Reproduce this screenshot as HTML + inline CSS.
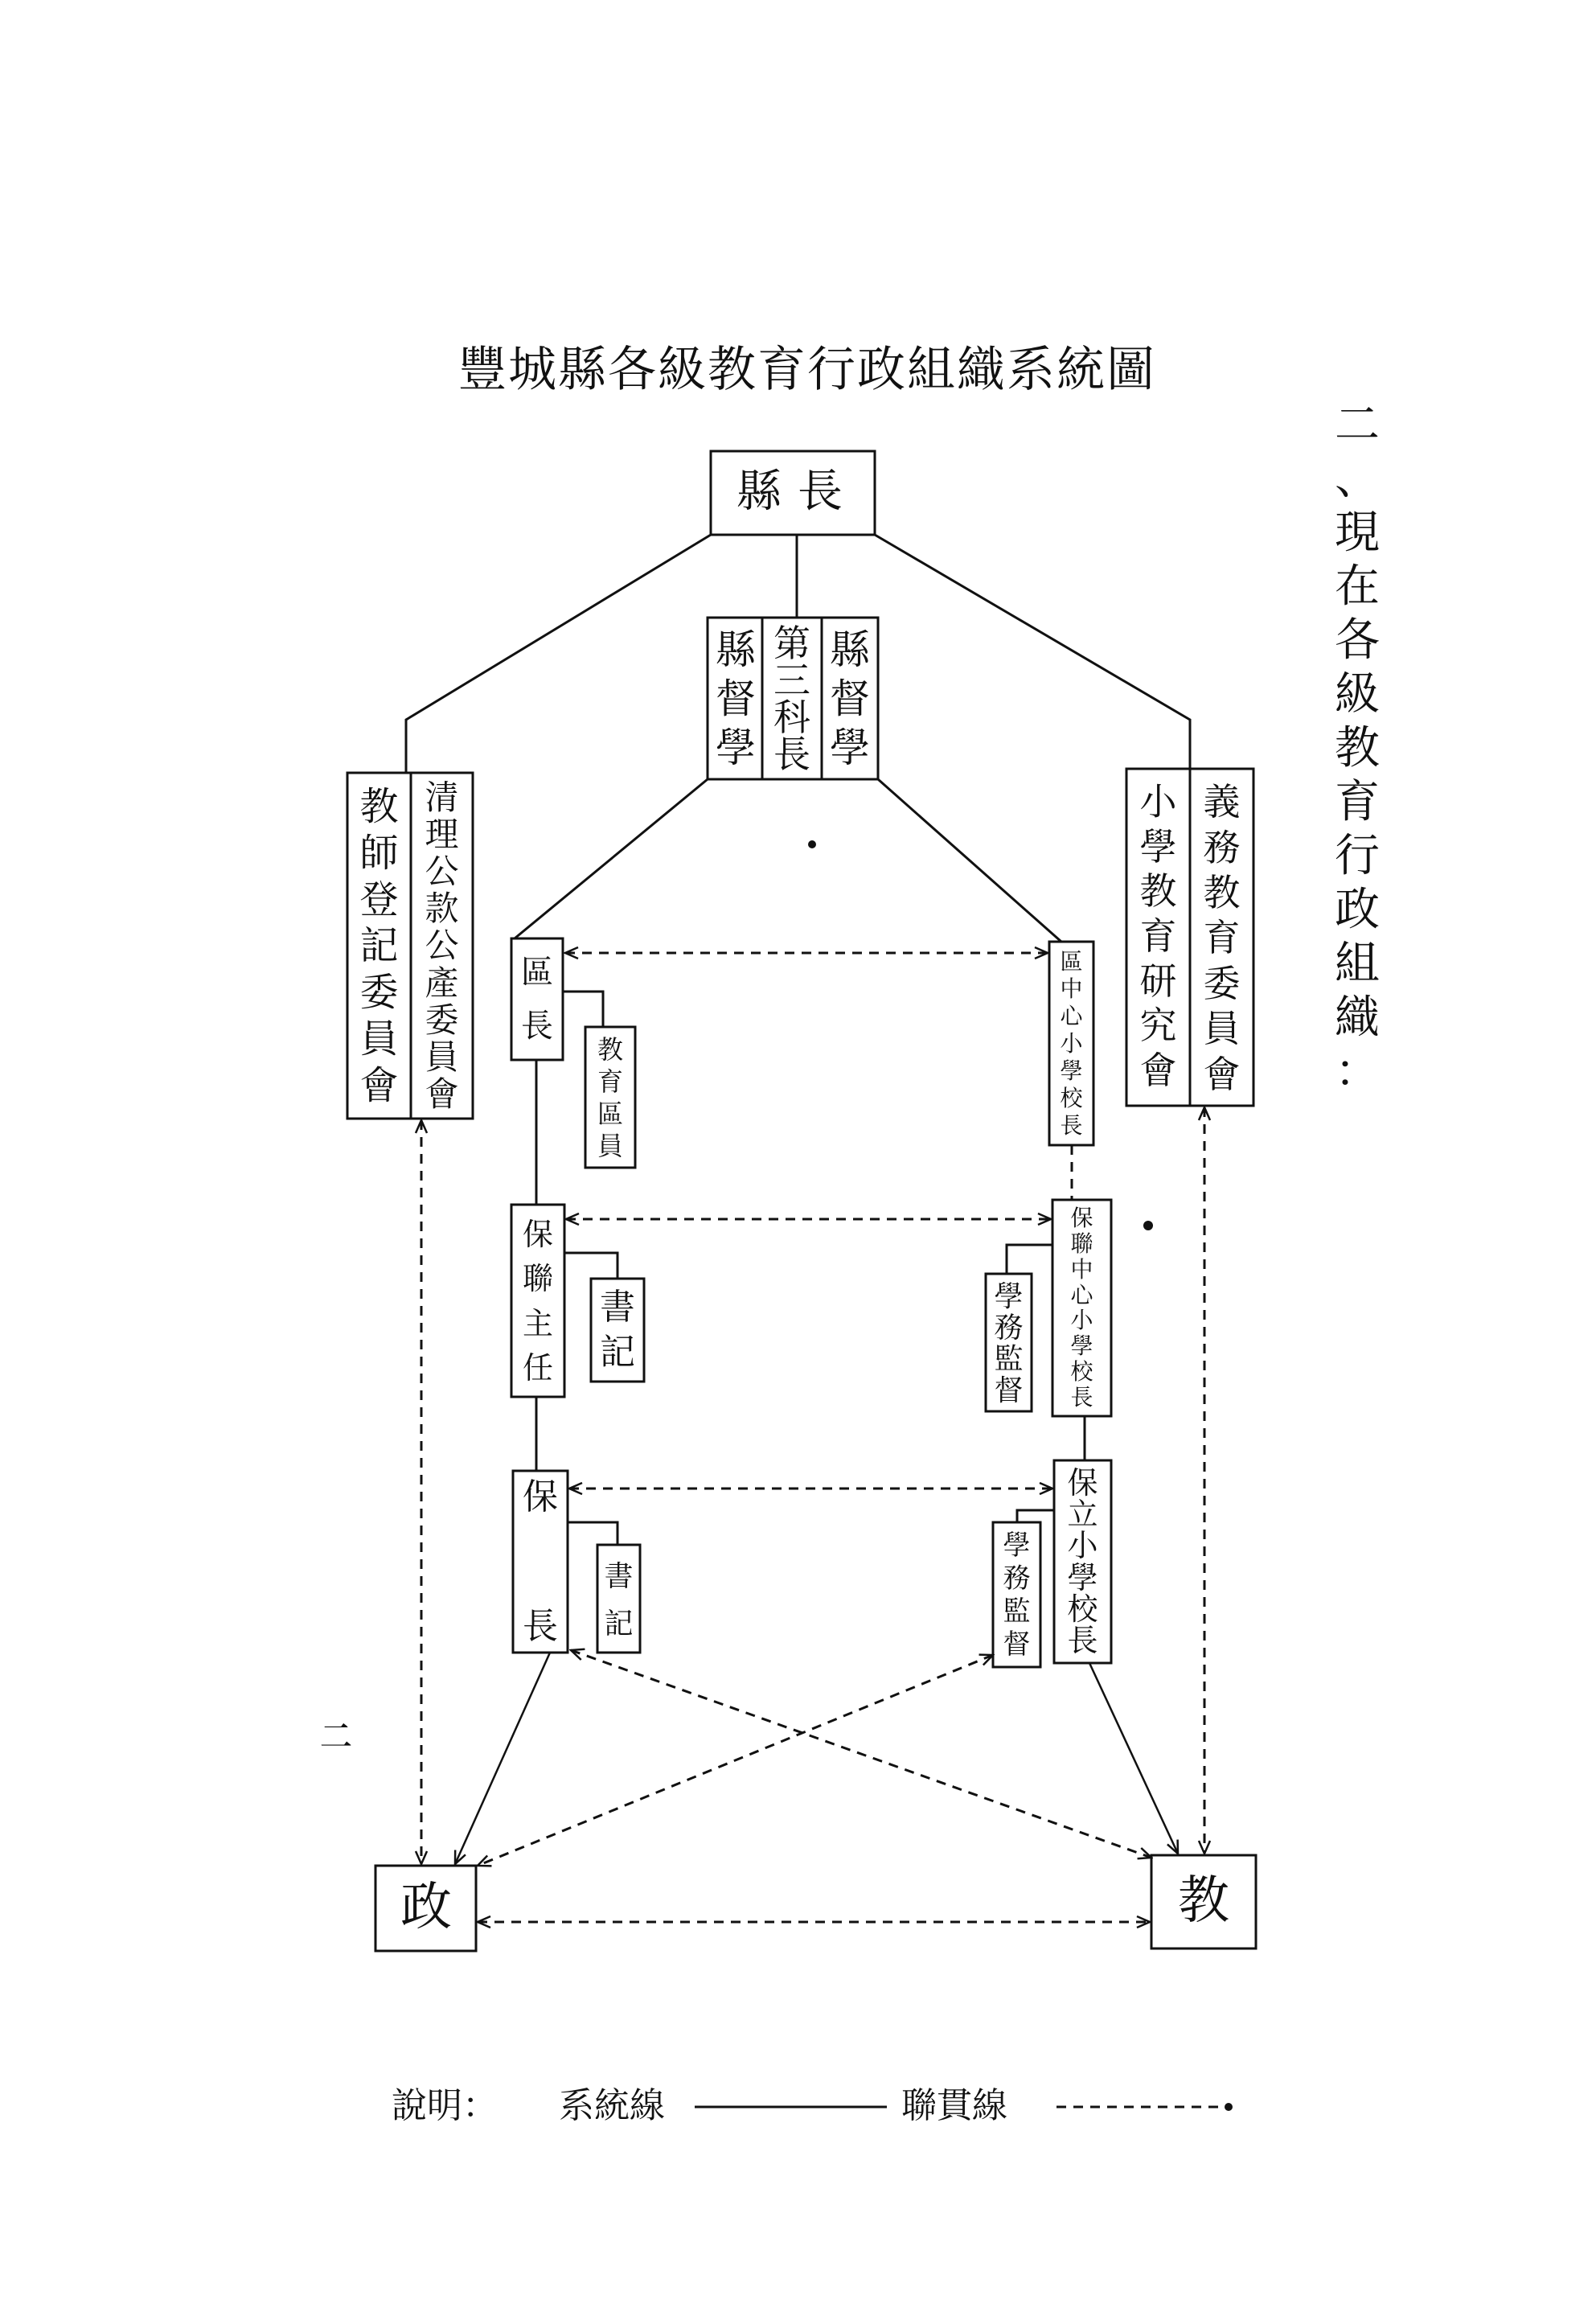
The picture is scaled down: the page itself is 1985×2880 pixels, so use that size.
<!DOCTYPE html>
<html><head><meta charset="utf-8">
<style>
html,body{margin:0;padding:0;background:#fff;}
body{width:1985px;height:2880px;position:relative;overflow:hidden;font-family:"Liberation Serif","Noto Serif CJK SC","Noto Sans CJK TC",serif;color:#111;}
svg{position:absolute;left:0;top:0;}
.v{position:absolute;display:flex;flex-direction:column;justify-content:space-around;align-items:center;line-height:1;}
.t{position:absolute;white-space:nowrap;line-height:1;}
</style></head><body>
<svg width="1985" height="2880" viewBox="0 0 1985 2880">
<defs>
<marker id="a" viewBox="0 0 20 20" refX="18" refY="10" markerWidth="20" markerHeight="20" markerUnits="userSpaceOnUse" orient="auto-start-reverse">
<path d="M2,3 L18,10 L2,17" fill="none" stroke="#111" stroke-width="2.5"/>
</marker>
</defs>
<g fill="none" stroke="#111" stroke-width="3">
<rect x="884" y="561" width="204" height="104"/>
<rect x="880" y="768" width="212" height="201"/>
<line x1="948" y1="768" x2="948" y2="969"/><line x1="1022" y1="768" x2="1022" y2="969"/>
<rect x="432" y="961" width="156" height="430"/><line x1="511" y1="961" x2="511" y2="1391"/>
<rect x="1401" y="956" width="158" height="419"/><line x1="1480" y1="956" x2="1480" y2="1375"/>
<rect x="636" y="1167" width="64" height="151"/>
<rect x="728" y="1277" width="62" height="175"/>
<rect x="1305" y="1171" width="55" height="253"/>
<rect x="636" y="1498" width="66" height="239"/>
<rect x="735" y="1590" width="66" height="128"/>
<rect x="1309" y="1492" width="73" height="269"/>
<rect x="1226" y="1584" width="57" height="171"/>
<rect x="638" y="1829" width="68" height="226"/>
<rect x="743" y="1921" width="53" height="134"/>
<rect x="1311" y="1816" width="71" height="252"/>
<rect x="1235" y="1893" width="59" height="180"/>
<rect x="467" y="2320" width="125" height="106"/>
<rect x="1432" y="2307" width="130" height="116"/>
<line x1="991" y1="665" x2="991" y2="768"/>
<polyline points="884,665 505,895 505,961"/>
<polyline points="1088,665 1480,895 1480,956"/>
<line x1="880" y1="969" x2="640" y2="1167"/>
<line x1="1092" y1="969" x2="1320" y2="1171"/>
<polyline points="700,1233 750,1233 750,1277"/>
<line x1="667" y1="1318" x2="667" y2="1498"/>
<polyline points="702,1558 768,1558 768,1590"/>
<polyline points="1309,1548 1252,1548 1252,1584"/>
<line x1="667" y1="1737" x2="667" y2="1829"/>
<polyline points="706,1893 768,1893 768,1921"/>
<line x1="1349" y1="1761" x2="1349" y2="1816"/>
<polyline points="1311,1878 1265,1878 1265,1893"/>
<line x1="684" y1="2055" x2="566" y2="2318" marker-end="url(#a)" stroke-width="2.5"/>
<line x1="1355" y1="2068" x2="1465" y2="2305" marker-end="url(#a)" stroke-width="2.5"/>
</g>
<g fill="none" stroke="#111" stroke-width="3" stroke-dasharray="12,9">
<line x1="703" y1="1185" x2="1303" y2="1185" marker-start="url(#a)" marker-end="url(#a)"/>
<line x1="704" y1="1516" x2="1307" y2="1516" marker-start="url(#a)" marker-end="url(#a)"/>
<line x1="708" y1="1851" x2="1309" y2="1851" marker-start="url(#a)" marker-end="url(#a)"/>
<line x1="1333" y1="1424" x2="1333" y2="1492"/>
<line x1="524" y1="1393" x2="524" y2="2318" marker-start="url(#a)" marker-end="url(#a)"/>
<line x1="1498" y1="1377" x2="1498" y2="2305" marker-start="url(#a)" marker-end="url(#a)"/>
<line x1="710" y1="2052" x2="1432" y2="2310" marker-start="url(#a)" marker-end="url(#a)"/>
<line x1="1235" y1="2058" x2="594" y2="2320" marker-start="url(#a)" marker-end="url(#a)"/>
<line x1="594" y1="2390" x2="1430" y2="2390" marker-start="url(#a)" marker-end="url(#a)"/>
<line x1="1314" y1="2620" x2="1525" y2="2620"/>
</g>
<line x1="864" y1="2620" x2="1103" y2="2620" stroke="#111" stroke-width="3"/>
<circle cx="1528" cy="2620" r="5" fill="#111"/>
<circle cx="1010" cy="1050" r="5" fill="#111"/>
<circle cx="1428" cy="1524" r="6" fill="#111"/>
</svg>

<div class="t" style="left:570px;top:430px;font-size:60px;letter-spacing:2px;">豐城縣各級教育行政組織系統圖</div>
<div class="t" style="left:916px;top:584px;font-size:56px;letter-spacing:20px;">縣長</div>

<div class="v" style="left:882px;top:778px;width:66px;height:182px;font-size:50px;"><span>縣</span><span>督</span><span>學</span></div>
<div class="v" style="left:948px;top:778px;width:74px;height:182px;font-size:46px;"><span>第</span><span>三</span><span>科</span><span>長</span></div>
<div class="v" style="left:1022px;top:778px;width:70px;height:182px;font-size:50px;"><span>縣</span><span>督</span><span>學</span></div>

<div class="v" style="left:432px;top:975px;width:79px;height:405px;font-size:48px;"><span>教</span><span>師</span><span>登</span><span>記</span><span>委</span><span>員</span><span>會</span></div>
<div class="v" style="left:511px;top:970px;width:77px;height:415px;font-size:42px;"><span>清</span><span>理</span><span>公</span><span>款</span><span>公</span><span>產</span><span>委</span><span>員</span><span>會</span></div>
<div class="v" style="left:1401px;top:970px;width:79px;height:390px;font-size:46px;"><span>小</span><span>學</span><span>教</span><span>育</span><span>研</span><span>究</span><span>會</span></div>
<div class="v" style="left:1480px;top:970px;width:79px;height:395px;font-size:46px;"><span>義</span><span>務</span><span>教</span><span>育</span><span>委</span><span>員</span><span>會</span></div>

<div class="v" style="left:636px;top:1175px;width:64px;height:135px;font-size:40px;"><span>區</span><span>長</span></div>
<div class="v" style="left:728px;top:1285px;width:62px;height:160px;font-size:32px;"><span>教</span><span>育</span><span>區</span><span>員</span></div>
<div class="v" style="left:1305px;top:1180px;width:55px;height:238px;font-size:28px;"><span>區</span><span>中</span><span>心</span><span>小</span><span>學</span><span>校</span><span>長</span></div>

<div class="v" style="left:636px;top:1508px;width:66px;height:222px;font-size:38px;"><span>保</span><span>聯</span><span>主</span><span>任</span></div>
<div class="v" style="left:735px;top:1598px;width:66px;height:112px;font-size:44px;"><span>書</span><span>記</span></div>
<div class="v" style="left:1309px;top:1500px;width:73px;height:255px;font-size:28px;"><span>保</span><span>聯</span><span>中</span><span>心</span><span>小</span><span>學</span><span>校</span><span>長</span></div>
<div class="v" style="left:1226px;top:1592px;width:57px;height:156px;font-size:36px;"><span>學</span><span>務</span><span>監</span><span>督</span></div>

<div class="v" style="left:638px;top:1840px;width:68px;height:205px;font-size:44px;justify-content:space-between;"><span>保</span><span>長</span></div>
<div class="v" style="left:743px;top:1930px;width:53px;height:118px;font-size:36px;"><span>書</span><span>記</span></div>
<div class="v" style="left:1311px;top:1825px;width:71px;height:236px;font-size:38px;"><span>保</span><span>立</span><span>小</span><span>學</span><span>校</span><span>長</span></div>
<div class="v" style="left:1235px;top:1902px;width:59px;height:164px;font-size:34px;"><span>學</span><span>務</span><span>監</span><span>督</span></div>

<div class="t" style="left:498px;top:2340px;font-size:64px;">政</div>
<div class="t" style="left:1465px;top:2332px;font-size:64px;">教</div>

<div class="t" style="left:398px;top:2140px;font-size:40px;font-weight:bold;">二</div>

<div class="t" style="left:487px;top:2597px;font-size:44px;">說明：</div>
<div class="t" style="left:695px;top:2597px;font-size:44px;">系統線</div>
<div class="t" style="left:1121px;top:2597px;font-size:44px;">聯貫線</div>

<div class="v" style="left:1655px;top:496px;width:66px;height:870px;font-size:56px;"><span>二</span><span>、</span><span>現</span><span>在</span><span>各</span><span>級</span><span>教</span><span>育</span><span>行</span><span>政</span><span>組</span><span>織</span><span>：</span></div>
</body></html>
